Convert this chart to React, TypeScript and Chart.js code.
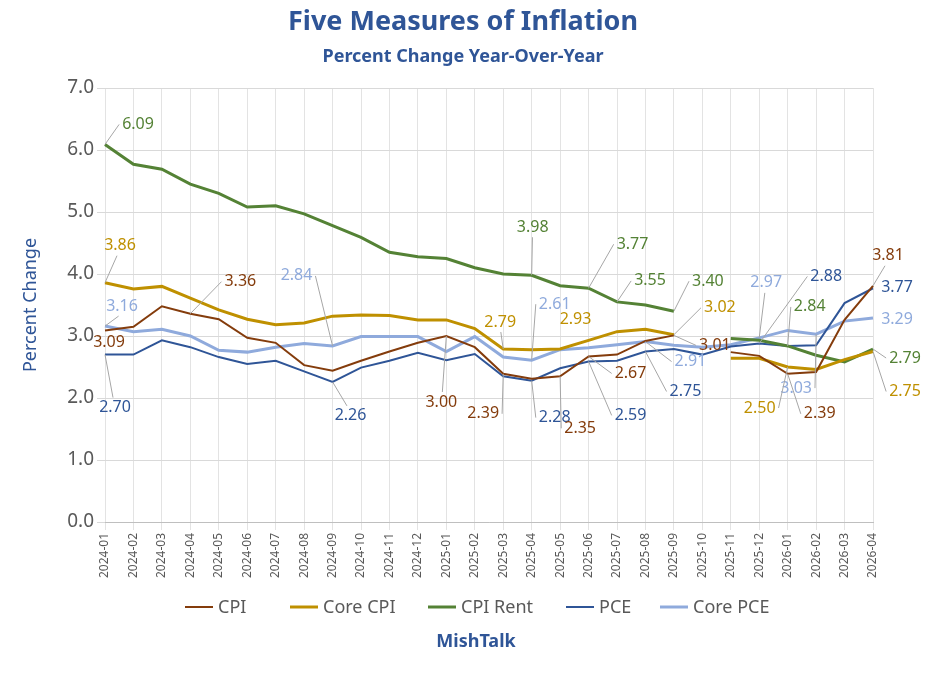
import { useEffect, useRef } from "react";
import { Chart, registerables } from "chart.js";
Chart.register(...registerables);

const months = [
  "2024-01", "2024-02", "2024-03", "2024-04", "2024-05", "2024-06", "2024-07", "2024-08", "2024-09", "2024-10", "2024-11", "2024-12",
  "2025-01", "2025-02", "2025-03", "2025-04", "2025-05", "2025-06", "2025-07", "2025-08", "2025-09", "2025-10", "2025-11", "2025-12",
  "2026-01", "2026-02", "2026-03", "2026-04",
];
const cpi = [3.09, 3.15, 3.48, 3.36, 3.27, 2.97, 2.89, 2.53, 2.44, 2.6, 2.75, 2.89, 3.0, 2.82, 2.39, 2.31, 2.35, 2.67, 2.7, 2.92, 3.01, null, 2.74, 2.68, 2.39, 2.42, 3.26, 3.81];
const coreCpi = [3.86, 3.76, 3.8, 3.61, 3.42, 3.27, 3.18, 3.21, 3.32, 3.34, 3.33, 3.26, 3.26, 3.12, 2.79, 2.78, 2.79, 2.93, 3.07, 3.11, 3.02, null, 2.64, 2.64, 2.5, 2.46, 2.62, 2.75];
const cpiRent = [6.09, 5.77, 5.69, 5.45, 5.3, 5.08, 5.1, 4.97, 4.78, 4.59, 4.35, 4.28, 4.25, 4.1, 4.0, 3.98, 3.81, 3.77, 3.55, 3.5, 3.4, null, 2.96, 2.93, 2.84, 2.69, 2.58, 2.79];
const pce = [2.7, 2.7, 2.93, 2.82, 2.66, 2.55, 2.6, 2.43, 2.26, 2.49, 2.6, 2.73, 2.61, 2.71, 2.35, 2.28, 2.48, 2.59, 2.6, 2.75, 2.79, 2.7, 2.83, 2.88, 2.84, 2.85, 3.53, 3.77];
const corePce = [3.16, 3.07, 3.11, 3.0, 2.77, 2.74, 2.82, 2.88, 2.84, 2.99, 2.99, 2.99, 2.75, 2.99, 2.66, 2.61, 2.78, 2.81, 2.86, 2.91, 2.85, 2.82, 2.86, 2.97, 3.09, 3.03, 3.24, 3.29];

const seriesNames = ["CPI", "Core CPI", "CPI Rent", "PCE", "Core PCE"];
const seriesColors = ["#843C0C", "#BF9000", "#548235", "#2F5597", "#8FAADC"];
const seriesWidths = [2, 3, 3, 2, 3];

// [dataset, index, dx, dy] — label text placed relative to the point
const labels: [number, number, number, number][] = [
  [2, 0, 33, -20], [1, 0, 15, -37], [4, 0, 17, -20], [0, 0, 4, 12], [3, 0, 10, 53],
  [0, 3, 50, -32], [4, 8, -36, -70], [3, 8, 18, 34], [0, 12, -5, 66], [0, 14, -20, 40],
  [1, 14, -3, -27], [2, 15, 1, -48], [4, 15, 23, -56], [3, 15, 23, 37], [0, 16, 20, 52],
  [1, 17, -13, -21], [3, 17, 42, 54], [0, 17, 42, 17], [2, 17, 44, -44], [2, 18, 33, -21],
  [3, 19, 40, 40], [4, 19, 45, 20], [2, 20, 34, -30], [1, 20, 46, -27], [0, 20, 41, 10],
  [4, 23, 7, -55], [3, 23, 67, -67], [2, 24, 22, -39], [4, 25, -20, 54], [1, 24, -28, 41],
  [0, 24, 32, 40], [0, 27, 15, -30], [3, 27, 24, -1], [4, 27, 24, 1], [2, 27, 32, 9], [1, 27, 32, 40],
];

const FONT = "'Noto Sans', sans-serif";
const BLUE = "#2F5597";

const extras = {
  id: "extras",
  afterDatasetsDraw(chart: any) {
    const ctx = chart.ctx;
    ctx.save();
    ctx.font = `16px ${FONT}`;
    ctx.textAlign = "center";
    ctx.textBaseline = "middle";
    labels.forEach(([d, i, dx, dy]) => {
      const pt = chart.getDatasetMeta(d).data[i];
      const v = chart.data.datasets[d].data[i];
      const txt = v.toFixed(2);
      const tx = pt.x + dx;
      const ty = pt.y + dy;
      const w = ctx.measureText(txt).width / 2 + 3;
      if (Math.hypot(dx, dy) > 26) {
        const ex = Math.abs(dx) > w ? tx - Math.sign(dx) * w : pt.x + dx * 0.8;
        const ey = Math.abs(dx) > w ? ty : ty - Math.sign(dy) * 10;
        ctx.strokeStyle = "#A6A6A6";
        ctx.lineWidth = 1;
        ctx.beginPath();
        ctx.moveTo(pt.x, pt.y);
        ctx.lineTo(ex, ey);
        ctx.stroke();
      }
      ctx.fillStyle = seriesColors[d];
      ctx.fillText(txt, tx, ty);
    });
    ctx.restore();
  },
  afterDraw(chart: any) {
    const ctx = chart.ctx;
    ctx.save();
    ctx.textAlign = "center";
    ctx.textBaseline = "middle";
    ctx.fillStyle = BLUE;
    ctx.font = `bold 27px ${FONT}`;
    ctx.fillText("Five Measures of Inflation", 463, 22);
    ctx.font = `bold 18px ${FONT}`;
    ctx.fillText("Percent Change Year-Over-Year", 463, 57);
    ctx.fillText("MishTalk", 476, 642);
    // legend
    const xs = [185, 290, 428, 566, 660];
    ctx.font = `18px ${FONT}`;
    ctx.textAlign = "left";
    seriesNames.forEach((n, k) => {
      ctx.strokeStyle = seriesColors[k];
      ctx.lineWidth = seriesWidths[k];
      ctx.beginPath();
      ctx.moveTo(xs[k], 607);
      ctx.lineTo(xs[k] + 28, 607);
      ctx.stroke();
      ctx.fillStyle = "#595959";
      ctx.fillText(n, xs[k] + 33, 608);
    });
    ctx.restore();
  },
};

export default function App() {
  const ref = useRef<HTMLCanvasElement>(null);
  useEffect(() => {
    document.body.style.margin = "0";
    const series = [cpi, coreCpi, cpiRent, pce, corePce];
    const chart = new Chart(ref.current!, {
      type: "line",
      data: {
        labels: months,
        datasets: series.map((s, k) => ({
          label: seriesNames[k],
          data: s,
          borderColor: seriesColors[k],
          borderWidth: seriesWidths[k],
          pointRadius: 0,
          tension: 0,
          spanGaps: false,
        })),
      },
      options: {
        animation: false,
        responsive: false,
        layout: { padding: { top: 88, left: 20, right: 77, bottom: 61 } },
        plugins: { legend: { display: false }, tooltip: { enabled: false } },
        scales: {
          x: {
            offset: false,
            grid: { color: "#E3E3E3" },
            border: { color: "#BFBFBF" },
            ticks: { color: "#595959", font: { size: 12, family: FONT }, maxRotation: 90, minRotation: 90, autoSkip: false },
            afterFit: (s: any) => { s.height = 90; },
          },
          y: {
            min: 0,
            max: 7,
            grid: { color: "#D9D9D9" },
            border: { display: false },
            ticks: { stepSize: 1, color: "#595959", font: { size: 19, family: FONT }, callback: (v: any) => Number(v).toFixed(1) },
            title: { display: true, text: "Percent Change", color: BLUE, font: { size: 18, family: FONT }, padding: 0 },
            afterFit: (s: any) => { s.width = 85; },
          },
        },
      },
      plugins: [extras],
    });
    return () => chart.destroy();
  }, []);
  return <canvas ref={ref} width={950} height={673} style={{ display: "block", background: "#fff" }} />;
}
